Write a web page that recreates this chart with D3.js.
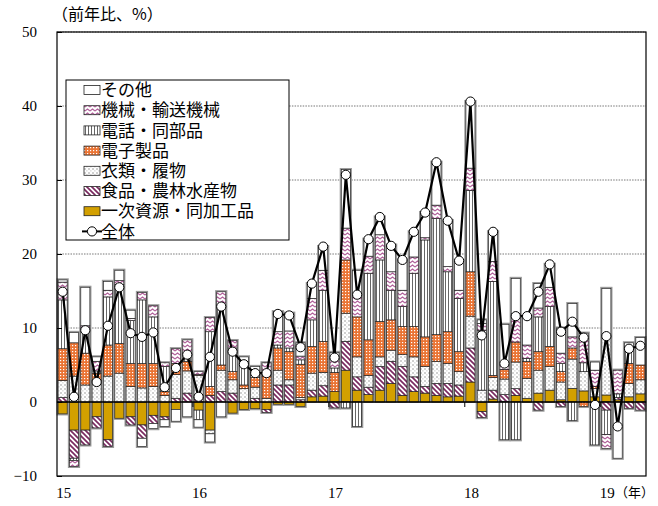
<!DOCTYPE html>
<html><head><meta charset="utf-8">
<script src="https://cdn.jsdelivr.net/npm/d3@7"></script>
<style>body{margin:0;background:#fff}</style>
</head><body><svg id="c" width="658" height="506"></svg>
<script>
// ---- data ----
const months = d3.range(52).map(i => (2015 + Math.floor(i / 12)) + "-" + String(i % 12 + 1).padStart(2, "0"));
const yearLabels = ["15", "16", "17", "18", "19"];
const yTicks = [-10, 0, 10, 20, 30, 40, 50];
const seriesKeys = ["primary", "food", "clothes", "electronics", "phone", "machinery", "other"];
const seriesNames = ["一次資源・同加工品", "食品・農林水産物", "衣類・履物", "電子製品", "電話・同部品", "機械・輸送機械", "その他"];
const totalName = "全体";

const primary = [-1.6,-3.8,-3.8,-2.0,-5.1,-2.2,-2.0,-3.1,-1.8,-2.0,-1.0,0,-1.1,-3.8,0,-1.5,-1.0,-0.9,-1.0,-0.3,-0.3,-0.6,0.7,0.8,1.4,4.3,1.6,1.0,1.6,2.5,0.9,1.4,1.2,0.9,0.7,0.8,2.7,-1.3,0.4,0.1,0.9,0.5,1.2,1.6,0.3,1.85,1.5,0.7,0.95,0.3,0.7,1.1];
const food = [0.6,-3.8,-2.0,-1.5,-0.9,0,-1.1,-1.8,-1.1,-0.4,0.5,1.2,0.6,0.9,1.4,1.2,0,0.5,-0.4,2.3,2.3,0.3,0.9,1.4,-0.8,3.9,1.8,1.0,3.2,3.0,3.9,2.0,0.9,1.6,1.8,1.5,4.6,-0.8,1.2,0.9,0.9,0,-1.1,0,-0.6,0,0,0,-1.1,0.3,-0.85,-1.1];
const clothes = [2.3,3.5,2.3,2.9,3.5,3.9,2.1,1.9,2.1,0.9,3.2,3.0,3.0,-0.5,2.9,1.8,1.8,1.5,0.5,2.0,0.7,0.3,2.3,1.8,0,3.8,2.7,1.6,1.3,1.5,1.6,2.7,2.7,3.0,2.7,1.8,4.3,1.6,1.7,2.1,3.6,2.7,3.1,3.2,2.4,3.95,2.6,1.1,7.9,0,1.8,1.9];
const electronics = [4.3,4.5,4.3,1.0,4.2,4.0,3.1,3.3,3.1,0.5,1.5,1.3,0.1,1.2,0.7,1.1,0.5,1.3,3.0,3.0,3.8,4.5,3.6,4.2,2.6,7.2,5.4,4.8,4.8,4.1,3.8,4.1,4.0,3.6,4.3,2.7,6.0,0,0.3,1.3,2.7,2.3,2.5,2.7,1.4,1.5,-0.6,0.3,0,0,2.7,2.0];
const phone = [6.6,-0.3,3.4,0.3,6.5,8.0,5.8,8.6,6.3,3.4,0,0.9,-1.3,7.4,7.9,3.2,3.0,0.3,0.3,0.4,0.5,0.6,3.6,6.9,0.6,-0.8,-3.3,9.0,8.3,4.0,2.7,7.2,13.1,15.7,8.1,7.2,11.0,8.1,12.7,-5.1,-5.1,0.4,4.7,5.4,1.1,-2.5,1.2,-5.8,-3.3,0.5,2.2,0];
const machinery = [2.4,-0.8,0.3,1.3,0.9,0.5,0.3,1.0,1.5,0.5,2.0,2.0,0.4,1.9,2.0,1.0,0.2,0,1.5,1.8,2.3,0.5,2.9,2.7,1.2,4.3,3.0,2.3,3.4,2.5,2.2,2.2,0.3,1.8,0.7,1.1,3.0,0.9,2.7,0.5,3.8,1.8,1.2,2.6,1.4,1.5,3.3,2.2,-1.9,3.2,0,0];
const other = [0.3,1.4,5.2,0.6,1.2,1.4,1.1,-1.1,-0.7,-0.9,-1.6,-2.0,-1.0,-1.1,-2.0,0,0.6,1.2,0,2.7,2.4,1.8,2.0,3.2,0.9,7.9,3.3,2.3,2.4,3.6,4.1,3.4,3.4,5.8,6.2,4.0,9.0,0.5,4.0,5.6,4.8,3.9,3.3,3.1,3.4,4.5,0.7,1.1,6.5,-7.6,0.6,3.7];
const total = [14.9,0.7,9.7,2.7,10.3,15.5,9.3,8.8,9.4,2.0,4.6,6.4,0.7,6.1,12.9,6.8,5.1,3.9,3.9,11.9,11.7,7.4,16.0,21.0,6.0,30.7,14.5,22.0,25.0,21.1,19.2,23.0,25.6,32.4,24.5,19.1,40.6,9.0,23.0,5.2,11.6,11.6,14.9,18.6,9.5,10.85,8.7,-0.4,8.9,-3.3,7.2,7.6];

const seriesData = {primary, food, clothes, electronics, phone, machinery, other};
const rows = months.map((m, i) => {
  const r = {month: m};
  seriesKeys.forEach(k => r[k] = seriesData[k][i]);
  r.total = total[i];
  return r;
});

// ---- layout ----
const svg = d3.select("#c");
const L = 57, R = 646, T = 32, B = 476;
const x = d3.scaleBand().domain(months).range([L, R]).paddingInner(0.2).paddingOuter(0.1);
const y = d3.scaleLinear().domain([-10, 50]).range([B, T]);

const defs = svg.append("defs");
const pm = defs.append("pattern").attr("id", "p-machinery").attr("patternUnits", "userSpaceOnUse").attr("width", 5).attr("height", 4);
pm.append("rect").attr("width", 5).attr("height", 4).attr("fill", "#fff");
pm.append("path").attr("d", "M0,3 L2.5,1 L5,3").attr("fill", "none").attr("stroke", "#b0609a").attr("stroke-width", 1.1);

const pp = defs.append("pattern").attr("id", "p-phone").attr("patternUnits", "userSpaceOnUse").attr("width", 3).attr("height", 3);
pp.append("rect").attr("width", 3).attr("height", 3).attr("fill", "#fff");
pp.append("rect").attr("x", 1).attr("width", 0.9).attr("height", 3).attr("fill", "#555");

const pe = defs.append("pattern").attr("id", "p-electronics").attr("patternUnits", "userSpaceOnUse").attr("width", 3).attr("height", 3);
pe.append("rect").attr("width", 3).attr("height", 3).attr("fill", "#ea7434");
pe.append("rect").attr("x", 0).attr("y", 0).attr("width", 1.2).attr("height", 1.2).attr("fill", "#fff");

const pc = defs.append("pattern").attr("id", "p-clothes").attr("patternUnits", "userSpaceOnUse").attr("width", 4).attr("height", 4);
pc.append("rect").attr("width", 4).attr("height", 4).attr("fill", "#fff");
pc.append("rect").attr("x", 0.5).attr("y", 0.5).attr("width", 1).attr("height", 1).attr("fill", "#444");
pc.append("rect").attr("x", 2.5).attr("y", 2.5).attr("width", 0.8).attr("height", 0.8).attr("fill", "#888");

const pf = defs.append("pattern").attr("id", "p-food").attr("patternUnits", "userSpaceOnUse").attr("width", 5).attr("height", 5);
pf.append("rect").attr("width", 5).attr("height", 5).attr("fill", "#fff");
pf.append("path").attr("d", "M0,0 L5,5 M-2.5,2.5 L2.5,7.5 M2.5,-2.5 L7.5,2.5").attr("stroke", "#7a2a60").attr("stroke-width", 1.7);

const fills = {
  primary: "#d3a000",
  food: "url(#p-food)",
  clothes: "url(#p-clothes)",
  electronics: "url(#p-electronics)",
  phone: "url(#p-phone)",
  machinery: "url(#p-machinery)",
  other: "#fff"
};

svg.append("g").selectAll("line").data(yTicks.filter(v => v > -10 && v !== 0))
  .join("line")
  .attr("x1", L).attr("x2", R).attr("y1", d => y(d)).attr("y2", d => y(d))
  .attr("stroke", "#777").attr("stroke-width", 1).attr("stroke-dasharray", "1.5,1.2");

const stack = d3.stack().keys(seriesKeys).order(d3.stackOrderNone).offset(d3.stackOffsetDiverging);
const stacked = stack(rows);

const ext = rows.map((r, i) => {
  let lo = 0, hi = 0;
  stacked.forEach(s => { lo = Math.min(lo, s[i][0], s[i][1]); hi = Math.max(hi, s[i][0], s[i][1]); });
  return {month: r.month, lo, hi};
});
const bw = x.bandwidth();
const outl = svg.append("g");
ext.forEach(e => {
  if (e.hi > 0) outl.append("rect").attr("x", x(e.month) - 0.8).attr("width", bw + 1.6)
    .attr("y", y(e.hi) - 0.8).attr("height", y(0) - y(e.hi) + 0.8)
    .attr("fill", "none").attr("stroke", "#9a9a9a").attr("stroke-width", 1.6);
  if (e.lo < 0) outl.append("rect").attr("x", x(e.month) - 0.8).attr("width", bw + 1.6)
    .attr("y", y(0)).attr("height", y(e.lo) - y(0) + 0.8)
    .attr("fill", "none").attr("stroke", "#9a9a9a").attr("stroke-width", 1.6);
});

svg.append("g").selectAll("g").data(stacked).join("g")
  .attr("fill", d => fills[d.key])
  .selectAll("rect").data(d => d.filter(p => p[1] !== p[0])).join("rect")
  .attr("x", d => x(d.data.month))
  .attr("width", bw)
  .attr("y", d => y(Math.max(d[0], d[1])))
  .attr("height", d => Math.abs(y(d[0]) - y(d[1])))
  .attr("stroke", "#222").attr("stroke-width", 0.7);

svg.append("line").attr("x1", L).attr("x2", R).attr("y1", y(0)).attr("y2", y(0))
  .attr("stroke", "#000").attr("stroke-width", 1.5);
svg.append("g").selectAll("line").data(months.filter((m, i) => i > 0 && i % 12 === 0))
  .join("line")
  .attr("x1", d => x(d) - x.step() * x.paddingInner() / 2).attr("x2", d => x(d) - x.step() * x.paddingInner() / 2)
  .attr("y1", y(0)).attr("y2", y(0) + 5).attr("stroke", "#000").attr("stroke-width", 1);

const line = d3.line().x(d => x(d.month) + bw / 2).y(d => y(d.total));
svg.append("path").datum(rows).attr("d", line).attr("fill", "none").attr("stroke", "#000").attr("stroke-width", 2.2);
svg.append("g").selectAll("circle").data(rows).join("circle")
  .attr("cx", d => x(d.month) + bw / 2).attr("cy", d => y(d.total)).attr("r", 4.6)
  .attr("fill", "#fff").attr("stroke", "#000").attr("stroke-width", 1);

svg.append("rect").attr("x", L).attr("y", T).attr("width", R - L).attr("height", B - T)
  .attr("fill", "none").attr("stroke", "#000").attr("stroke-width", 1.2);

const yAxis = d3.axisLeft(y).tickValues(yTicks).tickSize(-5).tickPadding(20).tickFormat(d3.format("d"));
const ya = svg.append("g").attr("transform", `translate(${L},0)`).call(yAxis);
ya.select(".domain").remove();
ya.selectAll("line").attr("stroke", "#000");
ya.selectAll("text").attr("font-family", "'Liberation Serif', serif").attr("font-size", 15).attr("fill", "#000");

const janMonths = months.filter((m, i) => i % 12 === 0);
svg.append("g").selectAll("text").data(janMonths).join("text")
  .attr("x", d => x(d) + bw / 2 + 1).attr("y", 498)
  .attr("text-anchor", "middle")
  .attr("font-family", "'Liberation Serif', serif").attr("font-size", 15)
  .text((d, i) => yearLabels[i]);
svg.append("text").attr("x", 615).attr("y", 497)
  .attr("font-family", "'Noto Sans CJK JP', sans-serif").attr("font-size", 13)
  .text("（年）");

svg.append("text").attr("x", 52).attr("y", 20)
  .attr("font-family", "'Noto Sans CJK JP', sans-serif").attr("font-size", 16)
  .text("（前年比、%）");

const lg = svg.append("g");
lg.append("rect").attr("x", 66).attr("y", 80).attr("width", 223).attr("height", 160)
  .attr("fill", "#fff").attr("stroke", "#000").attr("stroke-width", 1);
const legendItems = seriesKeys.map((k, i) => ({key: k, name: seriesNames[i]})).reverse();
legendItems.forEach((it, i) => {
  const cy = 90 + i * 20.2;
  lg.append("rect").attr("x", 84).attr("y", cy - 4.5).attr("width", 16).attr("height", 9)
    .attr("fill", fills[it.key]).attr("stroke", "#222").attr("stroke-width", 0.8);
  lg.append("text").attr("x", 101).attr("y", cy).attr("dy", "0.36em")
    .attr("font-family", "'Noto Sans CJK JP', sans-serif").attr("font-size", 17)
    .text(it.name);
});
{
  const cy = 90 + 7 * 20.2;
  lg.append("line").attr("x1", 82).attr("x2", 102).attr("y1", cy).attr("y2", cy).attr("stroke", "#000").attr("stroke-width", 2);
  lg.append("circle").attr("cx", 92).attr("cy", cy).attr("r", 4.6).attr("fill", "#fff").attr("stroke", "#000");
  lg.append("text").attr("x", 101).attr("y", cy).attr("dy", "0.36em")
    .attr("font-family", "'Noto Sans CJK JP', sans-serif").attr("font-size", 17)
    .text(totalName);
}
</script></body></html>
